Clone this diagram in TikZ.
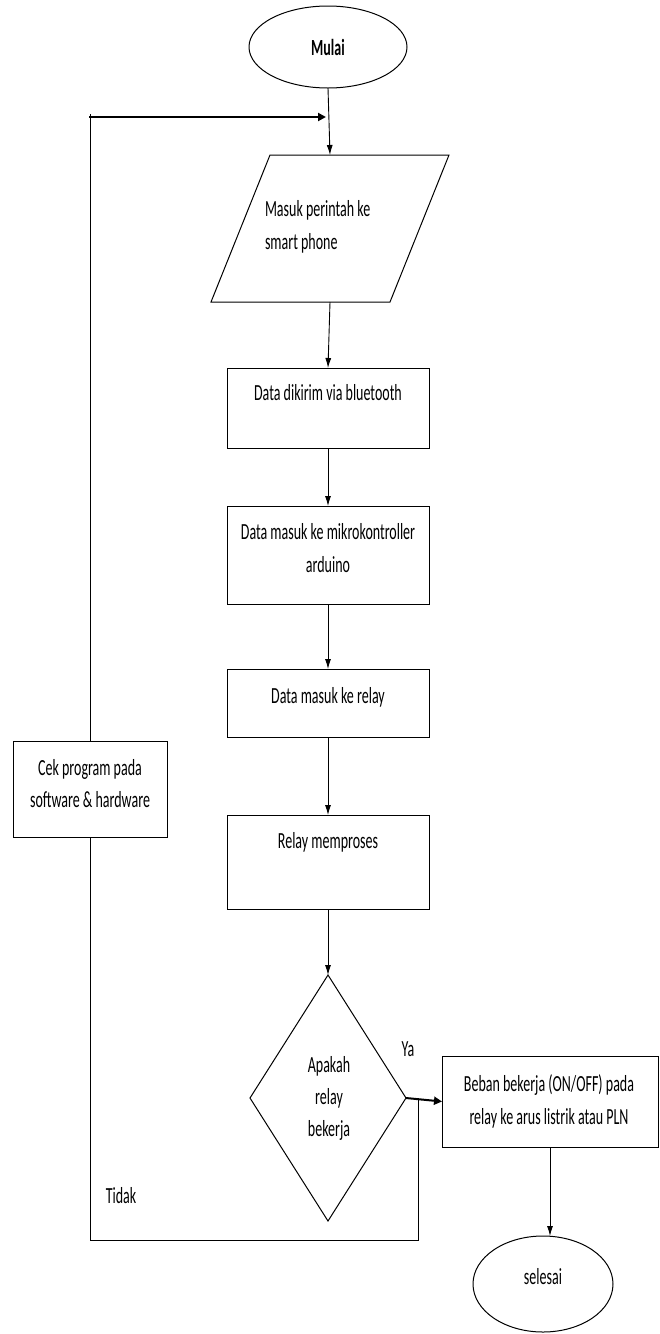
\documentclass[tikz,border=0pt]{standalone}
\usepackage{fontspec}
\setmainfont{Carlito}
\usetikzlibrary{shapes.geometric,arrows.meta}
\newcommand{\tx}[1]{\scalebox{1}[1.65]{\begin{tabular}{@{}c@{}}#1\end{tabular}}}
\newcommand{\txl}[1]{\scalebox{1}[1.65]{\begin{tabular}{@{}l@{}}#1\end{tabular}}}
\begin{document}
\begin{tikzpicture}[x=1pt,y=-1pt,
  every node/.style={font=\fontsize{14}{19.5}\selectfont, inner sep=0pt, outer sep=0pt},
  box/.style={draw, line width=1pt, rectangle, minimum width=202pt},
  term/.style={draw, line width=1pt, ellipse},
  dec/.style={draw, line width=1pt, diamond, minimum width=156pt, minimum height=246pt},
  flow/.style={line width=0.9pt, -{Latex[length=10pt,width=6pt]}},
  thickflow/.style={line width=2pt, -{Triangle[length=8pt,width=8pt]}},
  plain/.style={line width=1pt}
]
\useasboundingbox (0,0) rectangle (659,1334);

% shapes
\node[term, minimum width=158pt, minimum height=82pt] (mulai) at (328,47) {};
\node[minimum width=179pt, minimum height=147pt] (par) at (330,228.5) {};
\draw[line width=1pt] ([xshift=29.5pt]par.north west) -- ([xshift=29.5pt]par.north east)
  -- ([xshift=-29.5pt]par.south east) -- ([xshift=-29.5pt]par.south west) -- cycle;
\node[box, minimum height=80pt] (b1) at (328,408) {};
\node[box, minimum height=98pt] (b2) at (328,555) {};
\node[box, minimum height=68pt] (b3) at (328,703) {};
\node[box, minimum height=94pt] (b4) at (328,862) {};
\node[dec] (dia) at (328,1098) {};
\node[box, minimum width=216pt, minimum height=91pt] (b5) at (550,1101.5) {};
\node[term, minimum width=140pt, minimum height=96pt] (selesai) at (543,1284) {};
\node[box, minimum width=154pt, minimum height=96pt] (cek) at (90,789) {};

% texts
\node (tmulai) at (328,47) {\scalebox{1}[1.65]{\bfseries Mulai}};
\node[anchor=west] (tpar) at (265,226.5) {\txl{Masuk perintah ke\\smart phone}};
\node (tb1) at (328,394) {\tx{Data dikirim via bluetooth}};
\node (tb2) at (328,549.5) {\tx{Data masuk ke mikrokontroller\\arduino}};
\node (tb3) at (328,697) {\tx{Data masuk ke relay}};
\node (tb4) at (328,842) {\tx{Relay memproses}};
\node (tdia) at (329,1098) {\tx{Apakah\\relay\\bekerja}};
\node (tb5) at (549,1101.5) {\tx{Beban bekerja (ON/OFF) pada\\relay ke arus listrik atau PLN}};
\node (tsel) at (543,1278) {\tx{selesai}};
\node (tcek) at (90,785) {\tx{Cek program pada\\software \& hardware}};
\node (ya) at (408,1050) {\tx{Ya}};
\node (tidak) at (121,1197) {\tx{Tidak}};

% connectors
\coordinate (join) at (326,117);
\coordinate (corner) at (90,117);
\coordinate (split) at (418,1098);
\coordinate (bl) at (418,1240);
\coordinate (br) at (90,1240);
\draw[flow] (mulai.south) -- (par.north);
\draw[flow] (par.south) -- (b1.north);
\draw[flow] (b1.south) -- (b2.north);
\draw[flow] (b2.south) -- (b3.north);
\draw[flow] (b3.south) -- (b4.north);
\draw[flow] (b4.south) -- (dia.north);
\draw[thickflow] (dia.east) -- (b5.west);
\draw[flow] (b5.south) -- (b5.south |- selesai.north);
\draw[plain] (split) -- (bl) -- (br) -- (cek.south);
\draw[plain] (cek.north) -- ([yshift=3pt]corner);
\draw[thickflow] ([xshift=-1pt]corner) -- (join);
\end{tikzpicture}
\end{document}
